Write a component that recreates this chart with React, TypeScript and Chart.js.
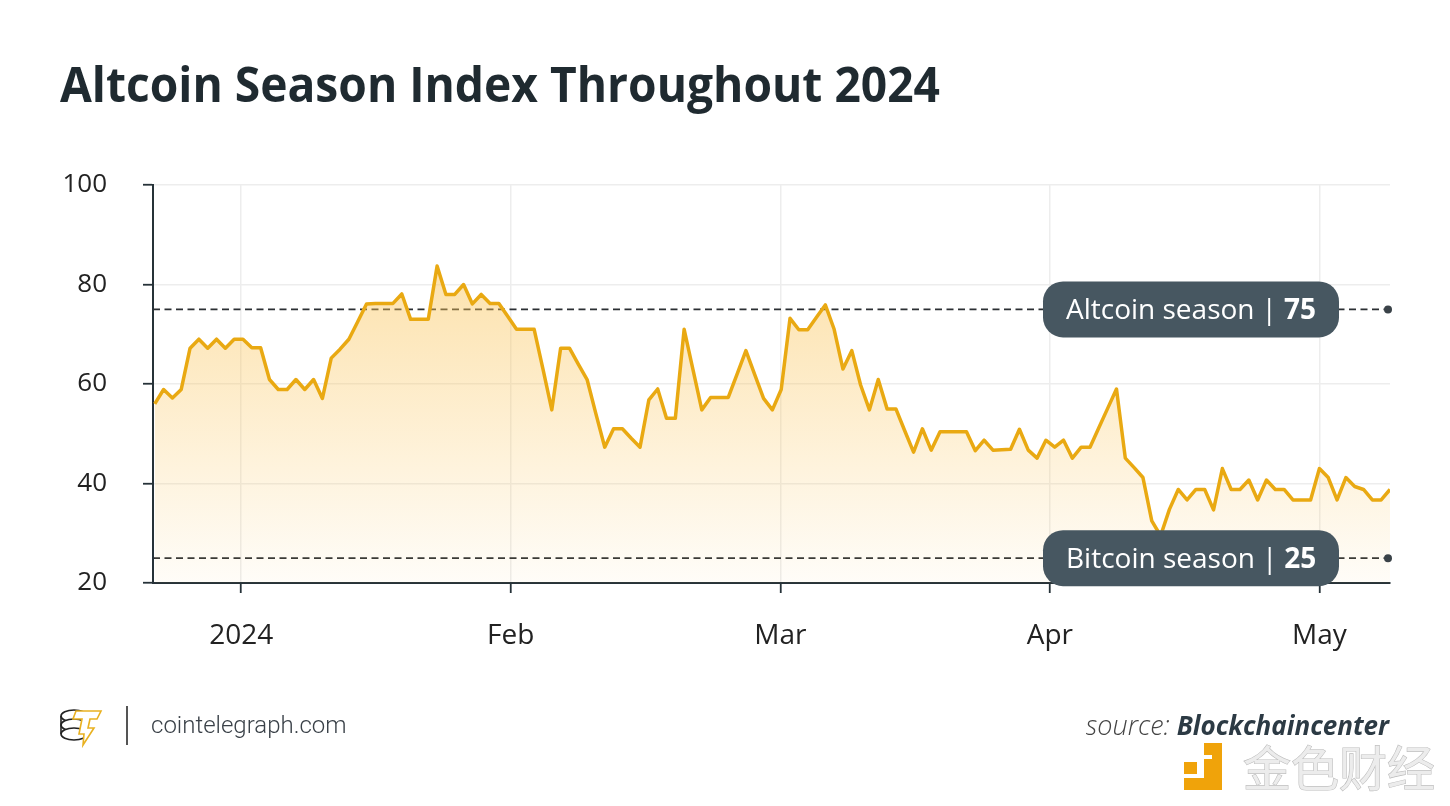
import React, { useEffect, useRef } from 'react';
import { Chart, registerables } from 'chart.js';

Chart.register(...registerables);

// Daily Altcoin Season Index readings, first observation 22 Dec 2023
const dayIndex: number[] = Array.from({ length: 141 }, (_, i) => i);
const indexValues: number[] = [
  56.0, 58.9, 57.2, 58.9, 67.2, 69.0, 67.2, 69.0, 67.2, 69.0,
  69.0, 67.3, 67.3, 60.9, 58.9, 58.9, 60.9, 58.9, 60.9, 57.1,
  65.2, 67.0, 69.0, 72.5, 76.1, 76.2, 76.2, 76.2, 78.1, 73.0,
  73.0, 73.0, 83.7, 78.0, 78.0, 80.0, 76.1, 78.0, 76.2, 76.2,
  73.6, 71.0, 71.0, 71.0, 63.0, 54.8, 67.2, 67.2, 64.0, 60.9,
  54.0, 47.3, 51.0, 51.0, 49.1, 47.3, 56.8, 59.0, 53.1, 53.1,
  71.0, 62.9, 54.8, 57.3, 57.3, 57.3, 62.0, 66.7, 61.9, 57.1,
  54.8, 58.9, 73.2, 70.9, 70.9, 73.4, 75.9, 71.0, 63.0, 66.7,
  59.8, 54.8, 60.9, 55.0, 55.0, 50.6, 46.3, 51.0, 46.7, 50.4,
  50.4, 50.4, 50.4, 46.6, 48.7, 46.7, 46.8, 46.9, 50.9, 46.7,
  45.1, 48.7, 47.3, 48.7, 45.1, 47.3, 47.3, 51.2, 55.1, 59.0,
  45.1, 43.2, 41.2, 32.5, 29.5, 34.8, 38.8, 36.7, 38.8, 38.8,
  34.7, 43.0, 38.8, 38.8, 40.7, 36.7, 40.7, 38.8, 38.8, 36.7,
  36.7, 36.7, 43.0, 41.2, 36.7, 41.2, 39.4, 38.8, 36.7, 36.7,
  38.8,
];

const monthLabels: string[] = ['2024', 'Feb', 'Mar', 'Apr', 'May'];
const monthTickDays: number[] = [9.8, 40.35, 70.9, 101.45, 132.0];
const thresholdLabels: string[] = ['Altcoin season', 'Bitcoin season'];
const thresholdValues: number[] = [75, 25];

const TITLE = 'Altcoin Season Index Throughout 2024';
const SITE = 'cointelegraph.com';
const SOURCE_PREFIX = 'source: ';
const SOURCE_NAME = 'Blockchaincenter';
const WATERMARK = '金色财经';

const LINE = '#e9a912';
const DARK = '#263238';
const BOX = '#475761';

function roundRect(ctx: CanvasRenderingContext2D, x: number, y: number, w: number, h: number, r: number) {
  ctx.beginPath();
  ctx.moveTo(x + r, y);
  ctx.lineTo(x + w - r, y);
  ctx.arcTo(x + w, y, x + w, y + r, r);
  ctx.lineTo(x + w, y + h - r);
  ctx.arcTo(x + w, y + h, x + w - r, y + h, r);
  ctx.lineTo(x + r, y + h);
  ctx.arcTo(x, y + h, x, y + h - r, r);
  ctx.lineTo(x, y + r);
  ctx.arcTo(x, y, x + r, y, r);
  ctx.closePath();
}

const overlayPlugin = {
  id: 'overlay',
  beforeDraw(chart: any) {
    const ctx: CanvasRenderingContext2D = chart.ctx;
    ctx.save();
    ctx.fillStyle = '#ffffff';
    ctx.fillRect(0, 0, chart.width, chart.height);

    // title
    ctx.fillStyle = '#1f2a30';
    ctx.font = 'bold 48px "Open Sans"';
    ctx.textAlign = 'left';
    ctx.textBaseline = 'alphabetic';
    ctx.fillText(TITLE, 60, 102, 880);

    // logo: coin stack
    ctx.strokeStyle = '#222';
    ctx.lineWidth = 1.6;
    for (let k = 0; k < 3; k++) {
      const cy = 716 + k * 9;
      ctx.beginPath();
      ctx.ellipse(74, cy, 13, 6, 0, 0, Math.PI * 2);
      ctx.fillStyle = '#fff';
      ctx.fill();
      ctx.stroke();
    }
    ctx.beginPath();
    ctx.moveTo(61, 716); ctx.lineTo(61, 734);
    ctx.stroke();
    // logo: lightning T
    ctx.strokeStyle = '#e9b120';
    ctx.lineWidth = 1.6;
    ctx.beginPath();
    ctx.moveTo(76, 711); ctx.lineTo(101, 711); ctx.lineTo(97, 719);
    ctx.lineTo(90, 719); ctx.lineTo(88, 728); ctx.lineTo(94, 728);
    ctx.lineTo(83, 745); ctx.lineTo(84, 734); ctx.lineTo(79, 734);
    ctx.lineTo(82, 719); ctx.lineTo(73, 719); ctx.closePath();
    ctx.fillStyle = '#fff';
    ctx.fill();
    ctx.stroke();

    // separator
    ctx.strokeStyle = '#555';
    ctx.lineWidth = 2;
    ctx.beginPath();
    ctx.moveTo(127, 706); ctx.lineTo(127, 745);
    ctx.stroke();

    ctx.fillStyle = '#3a4148';
    ctx.font = '300 24px Roboto';
    ctx.fillText(SITE, 151, 733);

    // source
    ctx.textAlign = 'right';
    ctx.font = 'italic bold 26px "Open Sans"';
    const nameW = ctx.measureText(SOURCE_NAME).width;
    ctx.fillStyle = '#2c3a44';
    ctx.fillText(SOURCE_NAME, 1389, 735);
    ctx.font = 'italic 300 27px "Open Sans"';
    ctx.fillStyle = '#444';
    ctx.fillText(SOURCE_PREFIX, 1389 - nameW, 735);

    // watermark
    ctx.fillStyle = '#f0a30a';
    ctx.fillRect(1184, 762, 13, 12);
    ctx.fillRect(1204, 743, 18, 47);
    ctx.fillRect(1184, 778, 38, 12);
    ctx.fillStyle = '#ffffff';
    ctx.fillRect(1204, 755, 8, 4);
    ctx.textAlign = 'left';
    ctx.font = '48px "Noto Sans CJK SC"';
    ctx.lineWidth = 1.2;
    ctx.strokeStyle = '#bdbdbd';
    ctx.strokeText(WATERMARK, 1243, 786);
    ctx.fillStyle = '#ececec';
    ctx.fillText(WATERMARK, 1243, 786);
    ctx.restore();
  },
  beforeDatasetsDraw(chart: any) {
    const ctx: CanvasRenderingContext2D = chart.ctx;
    const area = chart.chartArea;
    const y = chart.scales.y;
    ctx.save();
    ctx.strokeStyle = '#2b2f33';
    ctx.lineWidth = 1.8;
    ctx.setLineDash([7, 4.5]);
    thresholdValues.forEach((v) => {
      const py = y.getPixelForValue(v);
      ctx.beginPath();
      ctx.moveTo(area.left, py);
      ctx.lineTo(area.right - 2, py);
      ctx.stroke();
    });
    ctx.restore();
  },
  afterDatasetsDraw(chart: any) {
    const ctx: CanvasRenderingContext2D = chart.ctx;
    const area = chart.chartArea;
    const y = chart.scales.y;
    ctx.save();
    thresholdValues.forEach((v, i) => {
      const py = y.getPixelForValue(v);
      // end dot
      ctx.fillStyle = '#3a4248';
      ctx.beginPath();
      ctx.arc(area.right - 2, py, 4, 0, Math.PI * 2);
      ctx.fill();
      // box
      const bw = 296, bh = 56;
      const bx = area.right - 51 - bw;
      const by = py - bh / 2;
      ctx.fillStyle = BOX;
      roundRect(ctx, bx, by, bw, bh, 20);
      ctx.fill();
      ctx.fillStyle = '#ffffff';
      ctx.textAlign = 'left';
      ctx.textBaseline = 'alphabetic';
      ctx.font = '28px "Open Sans"';
      const tx = bx + 23;
      const base = py + 10;
      ctx.fillText(thresholdLabels[i], tx, base);
      const lw = ctx.measureText(thresholdLabels[i]).width;
      ctx.fillText('|', tx + lw + 7, base);
      const pw = ctx.measureText('|').width;
      ctx.font = 'bold 28px "Open Sans"';
      ctx.fillText(String(v), tx + lw + 7 + pw + 7, base);
    });
    ctx.restore();
  },
};

export default function App() {
  const canvasRef = useRef<HTMLCanvasElement | null>(null);

  useEffect(() => {
    const canvas = canvasRef.current;
    if (!canvas) return;
    const chart = new Chart(canvas, {
      type: 'line',
      data: {
        datasets: [
          {
            data: dayIndex.map((d, i) => ({ x: d, y: indexValues[i] })),
            borderColor: LINE,
            borderWidth: 3.5,
            pointRadius: 0,
            tension: 0,
            borderJoinStyle: 'round',
            fill: 'start',
            backgroundColor: (c: any) => {
              const area = c.chart.chartArea;
              if (!area) return 'rgba(0,0,0,0)';
              const g = c.chart.ctx.createLinearGradient(0, area.top, 0, area.bottom);
              g.addColorStop(0, 'rgba(250,195,85,0.6)');
              g.addColorStop(1, 'rgba(250,195,85,0.04)');
              return g;
            },
          },
        ],
      },
      options: {
        animation: false,
        responsive: false,
        devicePixelRatio: 1,
        layout: { padding: { left: 62, right: 60, top: 185, bottom: 0 } },
        plugins: {
          legend: { display: false },
          tooltip: { enabled: false },
          title: { display: false },
        },
        scales: {
          x: {
            type: 'linear',
            min: -0.2,
            max: 140,
            afterBuildTicks: (axis: any) => {
              axis.ticks = monthTickDays.map((v) => ({ value: v }));
            },
            afterFit: (scale: any) => {
              scale.height = 223;
            },
            ticks: {
              autoSkip: false,
              maxRotation: 0,
              padding: 26,
              color: '#222',
              font: { family: '"Open Sans"', size: 28 },
              callback: (_v: any, idx: number) => monthLabels[idx],
            },
            grid: {
              color: '#ededed',
              lineWidth: 1.5,
              tickColor: DARK,
              tickLength: 10,
              tickWidth: 1.8,
            },
            border: { color: DARK, width: 2 },
          },
          y: {
            min: 20,
            max: 100,
            afterFit: (scale: any) => {
              scale.width = 91;
            },
            ticks: {
              stepSize: 20,
              padding: 36,
              color: '#222',
              font: { family: '"Open Sans"', size: 26 },
            },
            grid: {
              color: '#ededed',
              lineWidth: 1.5,
              tickColor: DARK,
              tickLength: 10,
              tickWidth: 1.8,
            },
            border: { color: DARK, width: 2 },
          },
        },
      },
      plugins: [overlayPlugin],
    } as any);
    return () => chart.destroy();
  }, []);

  return (
    <div style={{ position: 'absolute', left: 0, top: 0, width: 1450, height: 806, background: '#fff' }}>
      <canvas ref={canvasRef} width={1450} height={806} style={{ display: 'block', width: 1450, height: 806 }} />
    </div>
  );
}
